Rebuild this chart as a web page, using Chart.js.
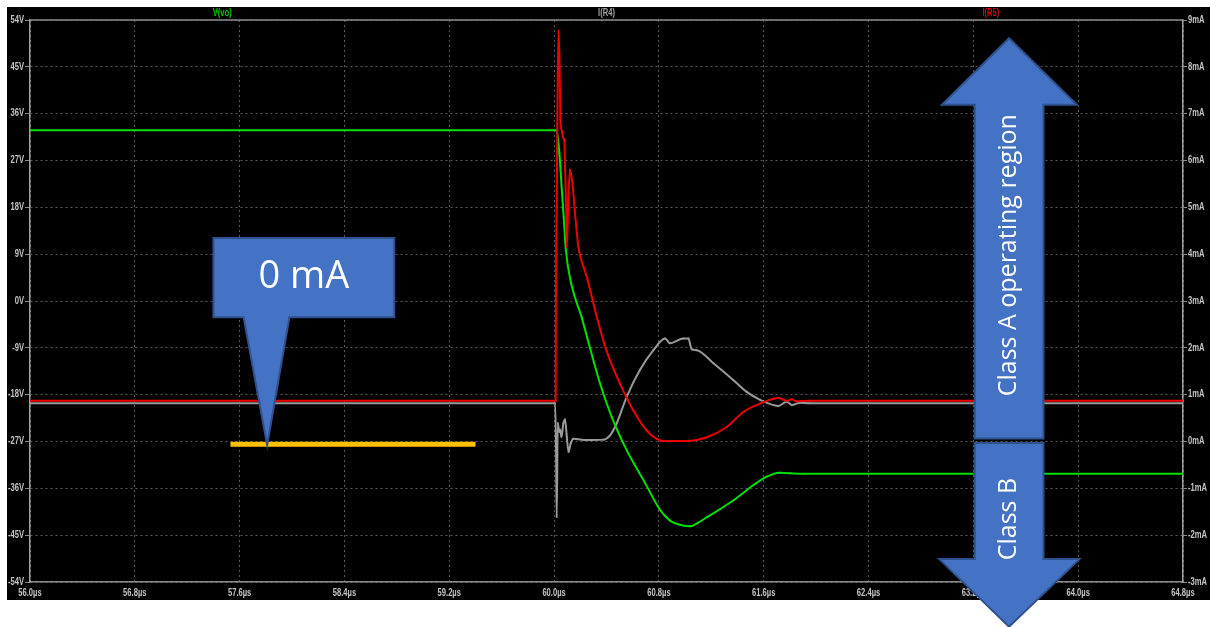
<!DOCTYPE html>
<html>
<head>
<meta charset="utf-8">
<script src="https://cdn.jsdelivr.net/npm/chart.js@4.4.1/dist/chart.umd.min.js"></script>
<style>
  html, body { margin: 0; padding: 0; background: #fff; }
  #wrap { width: 1210px; height: 627px; }
</style>
</head>
<body>
<div id="wrap"><canvas id="scope" width="1210" height="627"></canvas></div>
<script>
// axis ticks
const xTicks = [56.0, 56.8, 57.6, 58.4, 59.2, 60.0, 60.8, 61.6, 62.4, 63.2, 64.0, 64.8];
const vTicks = [-54, -45, -36, -27, -18, -9, 0, 9, 18, 27, 36, 45, 54];
const mATicks = [-3, -2, -1, 0, 1, 2, 3, 4, 5, 6, 7, 8, 9];

// V(vo), volts vs µs
const vvoT = [56.0, 60.02, 60.04, 60.06, 60.075, 60.09, 60.13, 60.21, 60.275, 60.35, 60.44, 60.555,
  60.695, 60.81, 60.885, 60.96, 61.04, 61.1, 61.17, 61.37, 61.52, 61.62, 61.72, 61.8, 61.9, 64.8];
const vvoV = [32.8, 32.8, 28.5, 21.0, 15.5, 9.8, 3.4, -3.1, -9.1, -15.8, -22.3, -28.7,
  -35.0, -40.2, -42.2, -43.0, -43.3, -42.6, -41.5, -38.3, -35.4, -33.8, -33.0, -33.1, -33.2, -33.2];

// I(R4), mA vs µs
const ir4T = [56.0, 60.008, 60.015, 60.02, 60.028, 60.04, 60.046, 60.056, 60.071, 60.084, 60.097, 60.11,
  60.127, 60.147, 60.25, 60.376, 60.427, 60.478, 60.555, 60.656, 60.758, 60.847, 60.885, 60.987, 61.025,
  61.05, 61.09, 61.216, 61.369, 61.47, 61.573, 61.712, 61.776, 61.814, 61.878, 61.95, 64.8];
const ir4I = [0.815, 0.815, -0.18, -1.61, 0.39, 0.21, 0.25, 0.10, 0.39, 0.47, 0.10, -0.22,
  -0.04, 0.06, 0.03, 0.04, 0.13, 0.39, 0.96, 1.53, 1.95, 2.2, 2.1, 2.2, 2.2,
  1.97, 1.95, 1.67, 1.31, 1.06, 0.89, 0.76, 0.85, 0.78, 0.83, 0.815, 0.815];

// I(R5), mA vs µs
const ir5T = [56.0, 60.012, 60.015, 60.02, 60.025, 60.033, 60.04, 60.046, 60.048, 60.059, 60.071, 60.079,
  60.084, 60.092, 60.097, 60.11, 60.122, 60.142, 60.16, 60.185, 60.224, 60.25, 60.326, 60.40, 60.504,
  60.605, 60.708, 60.834, 61.013, 61.166, 61.318, 61.445, 61.573, 61.712, 61.776, 61.814, 61.85, 61.95, 64.8];
const ir5I = [0.87, 0.87, 3.73, 5.0, 6.87, 8.77, 8.29, 7.36, 6.87, 6.64, 6.47, 6.44,
  5.8, 5.01, 4.16, 5.3, 5.8, 5.45, 4.87, 4.16, 3.73, 3.51, 2.66, 1.94, 1.23,
  0.66, 0.23, 0.01, 0.01, 0.09, 0.31, 0.63, 0.81, 0.93, 0.87, 0.9, 0.86, 0.87, 0.87];

// overlay shapes, in axis units (µs, V or mA)
const callout = { x0: 57.40, x1: 58.78, yTop: 12.1, yBot: -3.1, neckL: 57.63, neckR: 57.98, tipX: 57.81, tipY: -27.7, text: '0 mA' };
const zeroMark = { x0: 57.53, x1: 59.40, mA: -0.06 };
const classA = { shaftL: 63.21, shaftR: 63.735, headL: 62.96, headR: 63.99, tipY: 50.5, headY: 37.7, endY: -26.4, textY: 8.8, text: 'Class A operating region' };
const classB = { shaftL: 63.21, shaftR: 63.735, headL: 62.94, headR: 64.01, tipY: -62.6, headY: -49.6, endY: -27.3, textY: -41.9, text: 'Class B' };

const pts = (ts, ys) => ts.map((t, i) => ({ x: t, y: ys[i] }));
const labelFont = 'bold 10px "Liberation Sans", Arial, sans-serif';
const noteFont = '"Open Sans", "Noto Sans", sans-serif';

// narrow, LTspice-like label
function narrowText(ctx, text, px, py, align, color) {
  ctx.save();
  ctx.translate(px, py);
  ctx.scale(0.76, 1);
  ctx.font = labelFont;
  ctx.fillStyle = color;
  ctx.textAlign = align;
  ctx.textBaseline = 'middle';
  ctx.fillText(text, 0, 0);
  ctx.restore();
}

function drawArrow(ctx, x, y, a) {
  const sl = x.getPixelForValue(a.shaftL), sr = x.getPixelForValue(a.shaftR);
  const hl = x.getPixelForValue(a.headL), hr = x.getPixelForValue(a.headR);
  const cx = (sl + sr) / 2;
  const ty = y.getPixelForValue(a.tipY), hy = y.getPixelForValue(a.headY), ey = y.getPixelForValue(a.endY);
  ctx.beginPath();
  ctx.moveTo(sl, ey);
  ctx.lineTo(sl, hy);
  ctx.lineTo(hl, hy);
  ctx.lineTo(cx, ty);
  ctx.lineTo(hr, hy);
  ctx.lineTo(sr, hy);
  ctx.lineTo(sr, ey);
  ctx.closePath();
  ctx.fillStyle = '#4472c4';
  ctx.fill();
  ctx.strokeStyle = '#2f528f';
  ctx.lineWidth = 2;
  ctx.stroke();

  ctx.save();
  ctx.translate(cx, y.getPixelForValue(a.textY));
  ctx.rotate(-Math.PI / 2);
  ctx.fillStyle = '#fff';
  ctx.font = '25px ' + noteFont;
  ctx.textAlign = 'center';
  ctx.textBaseline = 'middle';
  ctx.fillText(a.text, 0, 0);
  ctx.restore();
}

const scopeDecor = {
  id: 'scopeDecor',
  beforeDraw(chart) {
    const { ctx } = chart;
    ctx.save();
    ctx.fillStyle = '#000';
    ctx.fillRect(7, 7, 1203, 593);
    ctx.restore();
  },
  afterDraw(chart) {
    const { ctx, chartArea: area, scales: { x, y, y1 } } = chart;
    ctx.save();

    // top frame line
    ctx.strokeStyle = '#8c8c8c';
    ctx.lineWidth = 1.5;
    ctx.beginPath();
    ctx.moveTo(area.left, area.top);
    ctx.lineTo(area.right, area.top);
    ctx.stroke();

    // tick labels
    const tc = '#c4c4c4';
    xTicks.forEach(v => narrowText(ctx, v.toFixed(1) + 'µs', x.getPixelForValue(v), area.bottom + 11, 'center', tc));
    vTicks.forEach(v => narrowText(ctx, v + 'V', area.left - 6, y.getPixelForValue(v), 'right', tc));
    mATicks.forEach(v => narrowText(ctx, v + 'mA', area.right + 5, y1.getPixelForValue(v), 'left', tc));

    // trace names across the top
    const w = (area.right - area.left) / chart.data.datasets.length;
    chart.data.datasets.forEach((ds, i) => {
      narrowText(ctx, ds.label, area.left + (i + 0.5) * w, 13, 'center', ds.labelColor);
    });

    // orange 0 mA marker
    ctx.strokeStyle = '#ffc000';
    ctx.lineWidth = 5;
    ctx.beginPath();
    const zy = y1.getPixelForValue(zeroMark.mA);
    ctx.moveTo(x.getPixelForValue(zeroMark.x0), zy);
    ctx.lineTo(x.getPixelForValue(zeroMark.x1), zy);
    ctx.stroke();

    // callout
    const c = callout;
    const L = x.getPixelForValue(c.x0), R = x.getPixelForValue(c.x1);
    const T = y.getPixelForValue(c.yTop), B = y.getPixelForValue(c.yBot);
    ctx.beginPath();
    ctx.moveTo(L, T);
    ctx.lineTo(R, T);
    ctx.lineTo(R, B);
    ctx.lineTo(x.getPixelForValue(c.neckR), B);
    ctx.lineTo(x.getPixelForValue(c.tipX), y.getPixelForValue(c.tipY));
    ctx.lineTo(x.getPixelForValue(c.neckL), B);
    ctx.lineTo(L, B);
    ctx.closePath();
    ctx.fillStyle = '#4472c4';
    ctx.fill();
    ctx.strokeStyle = '#2f528f';
    ctx.lineWidth = 2;
    ctx.stroke();
    ctx.fillStyle = '#fff';
    ctx.font = '38px ' + noteFont;
    ctx.textAlign = 'center';
    ctx.textBaseline = 'middle';
    ctx.fillText(c.text, (L + R) / 2, (T + B) / 2);

    drawArrow(ctx, x, y, classA);
    drawArrow(ctx, x, y, classB);
    ctx.restore();
  }
};

new Chart(document.getElementById('scope'), {
  type: 'line',
  data: {
    datasets: [
      { label: 'V(vo)', data: pts(vvoT, vvoV), yAxisID: 'y', borderColor: '#00e000', backgroundColor: '#00e000', labelColor: '#00c800', order: 2 },
      { label: 'I(R4)', data: pts(ir4T, ir4I), yAxisID: 'y1', borderColor: '#9a9a9a', backgroundColor: '#9a9a9a', labelColor: '#a0a0a0', order: 3 },
      { label: 'I(R5)', data: pts(ir5T, ir5I), yAxisID: 'y1', borderColor: '#ee0000', backgroundColor: '#ee0000', labelColor: '#d00000', order: 1 }
    ]
  },
  options: {
    responsive: false,
    animation: false,
    devicePixelRatio: 1,
    layout: { autoPadding: false, padding: { left: 7, top: 20, right: 4, bottom: 27 } },
    elements: {
      line: { borderWidth: 2, cubicInterpolationMode: 'monotone' },
      point: { radius: 1, borderWidth: 0, hoverRadius: 1 }
    },
    plugins: { legend: { display: false }, tooltip: { enabled: false } },
    scales: {
      x: {
        type: 'linear',
        min: 56, max: 64.8,
        afterBuildTicks: s => { s.ticks = xTicks.map(v => ({ value: v })); },
        afterFit: s => { s.height = 18; },
        ticks: { display: false },
        grid: { color: '#5a5a5a', drawTicks: false },
        border: { color: '#8c8c8c', width: 1.5, dash: [2, 3] }
      },
      y: {
        position: 'left',
        min: -54, max: 54,
        afterBuildTicks: s => { s.ticks = vTicks.map(v => ({ value: v })); },
        afterFit: s => { s.width = 23; },
        ticks: { display: false },
        grid: { color: '#5a5a5a', tickLength: 5, tickColor: '#8c8c8c' },
        border: { color: '#a0a0a0', width: 1.5, dash: [2, 3] }
      },
      y1: {
        position: 'right',
        min: -3, max: 9,
        afterBuildTicks: s => { s.ticks = mATicks.map(v => ({ value: v })); },
        afterFit: s => { s.width = 23; },
        ticks: { display: false },
        grid: { drawOnChartArea: false, tickLength: 4, tickColor: '#8c8c8c' },
        border: { color: '#a0a0a0', width: 1.5 }
      }
    }
  },
  plugins: [scopeDecor]
});
</script>
</body>
</html>
